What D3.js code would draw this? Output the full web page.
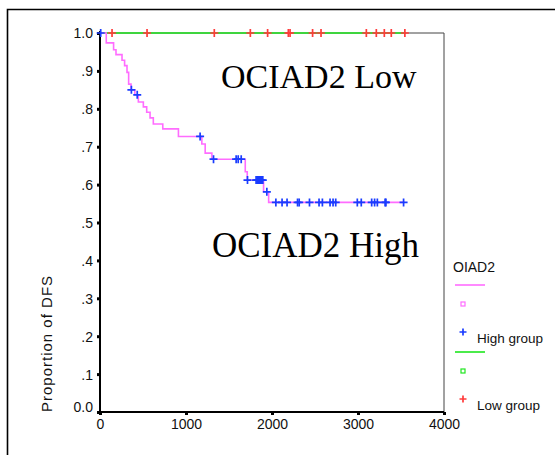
<!DOCTYPE html>
<html><head><meta charset="utf-8">
<script src="https://cdn.jsdelivr.net/npm/d3@7"></script>
<style>body{margin:0;background:#fff}svg{display:block}</style>
</head><body>
<svg id="c" width="555" height="455"></svg>
<script>
// ---- data ----
const xTicks = [0, 1000, 2000, 3000, 4000];
const yTicks = [0, 0.1, 0.2, 0.3, 0.4, 0.5, 0.6, 0.7, 0.8, 0.9, 1.0];
const yTickLabels = ["0.0", ".1", ".2", ".3", ".4", ".5", ".6", ".7", ".8", ".9", "1.0"];
// High group KM step (event times and survival after each)
const highTimes = [0, 73, 158, 186, 256, 286, 314, 333, 361, 405, 446, 504, 543, 582, 620, 730, 912, 1184, 1223, 1301, 1689, 1712, 1902, 1961];
const highSurv  = [1.0, 0.974, 0.956, 0.943, 0.928, 0.914, 0.896, 0.865, 0.850, 0.837, 0.818, 0.805, 0.791, 0.776, 0.760, 0.747, 0.727, 0.707, 0.683, 0.667, 0.634, 0.612, 0.581, 0.553];
const highEnd = 3540;
const highCensor = [8, 365, 433, 1164, 1320, 1583, 1607, 1642, 1715, 1815, 1828, 1841, 1854, 1867, 1880, 1893, 1940,
  2045, 2117, 2175, 2297, 2316, 2436, 2547, 2586, 2675, 2710, 2741, 2992, 3038, 3159, 3193, 3225, 3315, 3325, 3530];
// Low group: no events
const lowTimes = [0];
const lowSurv = [1.0];
const lowEnd = 3560;
const lowCensor = [140, 547, 1329, 1748, 1949, 2190, 2210, 2472, 2570, 3097, 3213, 3306, 3387, 3545];

const groupLabels = ["High group", "Low group"];
const legendTitle = "OIAD2";
const annoLow = "OCIAD2 Low";
const annoHigh = "OCIAD2 High";
const yTitle = "Proportion of DFS";

// ---- drawing ----
const svg = d3.select("#c");
const x = d3.scaleLinear().domain([0, 4000]).range([100, 444]);
const y = d3.scaleLinear().domain([0, 1]).range([412, 33]);

// outer frame
svg.append("path").attr("d", "M7.5,456 V9.5 H556").attr("fill", "none").attr("stroke", "#000").attr("stroke-width", 1.6);

// plot box (top & right)
svg.append("path")
  .attr("d", `M${x(0)},${y(1)} H${x(4000)} V${y(0)}`)
  .attr("fill", "none").attr("stroke", "#444").attr("stroke-width", 1);

const sans = "'Liberation Sans', Arial, sans-serif";

// axes
const yAxis = d3.axisLeft(y).tickValues(yTicks).tickSize(3).tickPadding(4)
  .tickFormat((d, i) => yTickLabels[i]);
const gy = svg.append("g").attr("transform", `translate(${x(0)},0)`).call(yAxis);
const xAxis = d3.axisBottom(x).tickValues(xTicks).tickSize(3).tickPadding(4).tickFormat(d3.format("d"));
const gx = svg.append("g").attr("transform", `translate(0,${y(0)})`).call(xAxis);
[gy, gx].forEach(g => {
  g.select(".domain").attr("stroke", "#000").attr("stroke-width", 2);
  g.selectAll(".tick line").attr("stroke", "#000").attr("stroke-width", 3);
  g.selectAll(".tick text").attr("fill", "#111").style("font-family", sans).style("font-size", "14px");
});
gy.select(".domain").attr("d", `M0,${y(1) - 2}V${y(0) + 1}`);
gx.select(".domain").attr("d", `M${x(0) - 1},0H${x(4000)}`);
gy.selectAll(".tick text").attr("dy", "0.35em");
gy.selectAll(".tick").filter(d => d === 0).select("text").attr("dy", "-0.05em");

// y title
svg.append("text")
  .attr("transform", `translate(52,412) rotate(-90)`)
  .attr("text-anchor", "start")
  .style("font-family", sans).style("font-size", "15px").style("letter-spacing", "1px")
  .attr("fill", "#111")
  .text(yTitle);

// step helpers
function stepPoints(times, surv, end) {
  const pts = times.map((t, i) => [t, surv[i]]);
  pts.push([end, surv[surv.length - 1]]);
  return pts;
}
function survAt(times, surv, t) {
  let s = surv[0];
  for (let i = 0; i < times.length; i++) if (times[i] <= t) s = surv[i];
  return s;
}
const line = d3.line().x(d => x(d[0])).y(d => y(d[1])).curve(d3.curveStepAfter);

const pink = "#ff6cff", green = "#1ee61e", blue = "#1a3cff", red = "#ff3b3b";

// low curve
svg.append("path").datum(stepPoints(lowTimes, lowSurv, lowEnd))
  .attr("d", line).attr("fill", "none").attr("stroke", green).attr("stroke-width", 1.6);
// high curve
svg.append("path").datum(stepPoints(highTimes, highSurv, highEnd))
  .attr("d", line).attr("fill", "none").attr("stroke", pink).attr("stroke-width", 1.6);

function plus(g, cx, cy, col, s) {
  g.append("path").attr("d", `M${cx - s},${cy}H${cx + s}M${cx},${cy - s}V${cy + s}`)
    .attr("stroke", col).attr("stroke-width", 1.7).attr("fill", "none");
}
const gm = svg.append("g");
lowCensor.forEach(t => plus(gm, x(t), y(survAt(lowTimes, lowSurv, t)), red, 4));
highCensor.forEach(t => plus(gm, x(t), y(survAt(highTimes, highSurv, t)), blue, 4));

// annotations
const serif = "'Liberation Serif', 'DejaVu Serif', serif";
svg.append("text").attr("x", 221).attr("y", 88).style("font-family", serif).style("font-size", "34px")
  .attr("fill", "#000").text(annoLow);
svg.append("text").attr("x", 212).attr("y", 257).style("font-family", serif).style("font-size", "35px")
  .attr("fill", "#000").text(annoHigh);

// legend
const lg = svg.append("g");
lg.append("text").attr("x", 453).attr("y", 272).style("font-family", sans).style("font-size", "14px")
  .attr("fill", "#111").text(legendTitle);
const legendItems = [
  { col: pink, mk: blue, y0: 285, label: groupLabels[0] },
  { col: green, mk: red, y0: 352, label: groupLabels[1] }
];
legendItems.forEach(it => {
  lg.append("line").attr("x1", 455).attr("x2", 485).attr("y1", it.y0).attr("y2", it.y0)
    .attr("stroke", it.col).attr("stroke-width", 1.6);
  lg.append("rect").attr("x", 461).attr("y", it.y0 + 17).attr("width", 4).attr("height", 4)
    .attr("fill", "none").attr("stroke", it.col).attr("stroke-width", 1.2);
  plus(lg, 463, it.y0 + 47, it.mk, 3.5);
  lg.append("text").attr("x", 477).attr("y", it.y0 + 58).style("font-family", sans).style("font-size", "13.5px")
    .attr("fill", "#111").text(it.label);
});
</script>
</body></html>
